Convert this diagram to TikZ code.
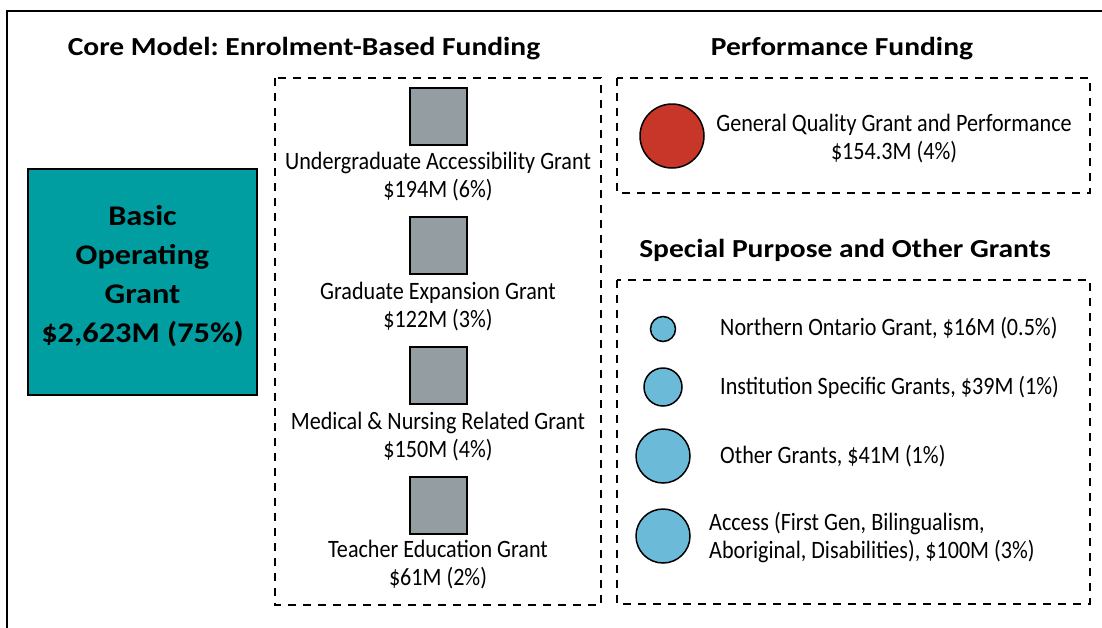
\documentclass[tikz,border=0pt]{standalone}
\usepackage{fontspec}
\setmainfont{Carlito}[FakeStretch=0.885]
\newfontfamily\headfont{Carlito}[FakeStretch=1.135]
\definecolor{tealbox}{RGB}{0,158,160}
\definecolor{grayfill}{RGB}{148,157,162}
\definecolor{redfill}{RGB}{200,54,42}
\definecolor{bluefill}{RGB}{107,186,216}
\frenchspacing
\begin{document}
\begin{tikzpicture}[x=1pt,y=-1pt,
  heading/.style={font=\headfont\bfseries\fontsize{26}{30}\selectfont, anchor=base, inner sep=0},
  dashbox/.style={draw, line width=2.5pt, dash pattern=on 8pt off 7pt},
  gsq/.style={draw, line width=2pt, fill=grayfill, minimum size=57pt, inner sep=0},
  lbl/.style={font=\fontsize{25}{27.5}\selectfont, align=center, inner sep=0, anchor=north},
  txt/.style={font=\fontsize{25}{28}\selectfont, inner sep=0},
  bcirc/.style={circle, draw, line width=1.5pt, fill=bluefill, inner sep=0},
  rcirc/.style={circle, draw, line width=1.5pt, fill=redfill, inner sep=0},
  basicbox/.style={draw, line width=2pt, fill=tealbox, minimum width=229pt, minimum height=226pt, inner sep=0},
  basictext/.style={align=center, font=\headfont\bfseries\fontsize{28.5}{39}\selectfont, inner sep=0}
]
\useasboundingbox (0,0) rectangle (1102,627);
% outer frame (only left and top edges visible)
\draw[line width=2.5pt] (7,640) -- (7,11) -- (1115,11);

% headings
\node[heading] (h1) at (304,55) {Core Model: Enrolment-Based Funding};
\node[heading] (h2) at (842,55) {Performance Funding};
\node[heading] (h3) at (845,257) {Special Purpose and Other Grants};

% dashed group boxes
\draw[dashbox] (275,78) rectangle (601,605);
\draw[dashbox] (617,78) rectangle (1090,193);
\draw[dashbox] (617,280) rectangle (1090,604);

% basic operating grant
\node[basicbox] (basic) at (142.5,282) {};
\node[basictext] (basict) at (142.5,276) {Basic\\Operating\\Grant\\\$2,623M (75\%)};

% enrolment-based grants
\node[gsq] (sq1) at (438,116) {};
\node[lbl] (l1) at (438,152) {Undergraduate Accessibility Grant\\\$194M (6\%)};
\node[gsq] (sq2) at (438,245) {};
\node[lbl] (l2) at (438,282) {Graduate Expansion Grant\\\$122M (3\%)};
\node[gsq] (sq3) at (438,375) {};
\node[lbl] (l3) at (438,412) {Medical \& Nursing Related Grant\\\$150M (4\%)};
\node[gsq] (sq4) at (438,505) {};
\node[lbl] (l4) at (438,540) {Teacher Education Grant\\\$61M (2\%)};

% performance funding
\node[rcirc, minimum size=64pt] (gq) at (672,136) {};
\node[lbl] (gql) at (894,114) {General Quality Grant and Performance\\\$154.3M (4\%)};

% special purpose grants
\node[bcirc, minimum size=25pt] (c1) at (663,329) {};
\node[txt, anchor=base west] (t1) at (720,335) {Northern Ontario Grant, \$16M (0.5\%)};
\node[bcirc, minimum size=38pt] (c2) at (663,387) {};
\node[txt, anchor=base west] (t2) at (720,394) {Institution Specific Grants, \$39M (1\%)};
\node[bcirc, minimum size=54pt] (c3) at (663,456) {};
\node[txt, anchor=base west] (t3) at (720,463) {Other Grants, \$41M (1\%)};
\node[bcirc, minimum size=54pt] (c4) at (663,536) {};
\node[txt, anchor=north west, align=left] (t4) at (709,512) {Access (First Gen, Bilingualism,\\Aboriginal, Disabilities), \$100M (3\%)};
\end{tikzpicture}
\end{document}
